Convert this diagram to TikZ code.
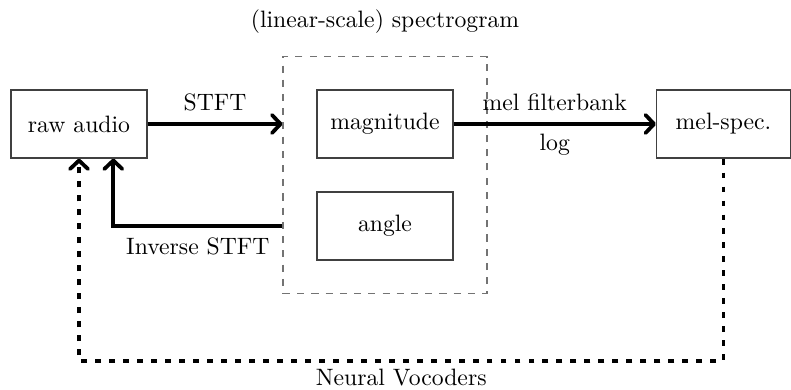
\documentclass[tikz,border=0pt]{standalone}
\usetikzlibrary{calc,arrows.meta}
\begin{document}
\begin{tikzpicture}[x=0.422pt,y=-0.422pt,
  block/.style={draw=black!75,line width=0.5pt,minimum width=57.4pt,minimum height=28.7pt,inner sep=0pt},
  specbox/.style={draw=black!55,dashed,line width=0.45pt,minimum width=86.1pt,minimum height=100pt,inner sep=0pt},
  tip/.tip={Straight Barb[length=3.6pt,width=7.6pt,round]},
  flow/.style={-tip,line width=1.6pt},
  vocoder/.style={-tip,line width=1.6pt,dash pattern=on 2.5pt off 3.4pt}]
  \useasboundingbox (0,0) rectangle (791,390);

  % blocks
  \node[block] (raw) at (79,124) {raw audio};
  \node[specbox] (spec) at (385,175) {};
  \node (title) at (385,22) {(linear-scale) spectrogram};
  \node[block] (mag) at (385,124) {magnitude};
  \node[block] (ang) at (385,226) {angle};
  \node[block,minimum width=56.5pt] (mel) at (723.5,124) {mel-spec.};

  % helper points
  \coordinate (istop) at ($(raw.south)!0.5!(raw.south east)$);
  \coordinate (vbot) at (400,361);

  % forward analysis
  \draw[flow] (raw.east) -- node[above,yshift=1.5pt] (lblstft) {STFT} (spec.west |- raw.east);
  \draw[flow] (mag.east) -- node[above,yshift=1.5pt] (lblmel) {mel filterbank}
                            node[below] (lbllog) {log} (mel.west);

  % inverse transform
  \draw[flow] (spec.west |- ang.west) -- node[below,yshift=-1pt] (lblinv) {Inverse STFT}
              (istop |- ang.west) -- (istop);

  % vocoder path
  \draw[vocoder] (mel.south) -- (mel.south |- vbot)
                 -- node[below,inner sep=2.5pt] (lblvoc) {Neural Vocoders} (raw.south |- vbot)
                 -- (raw.south);
\end{tikzpicture}
\end{document}
